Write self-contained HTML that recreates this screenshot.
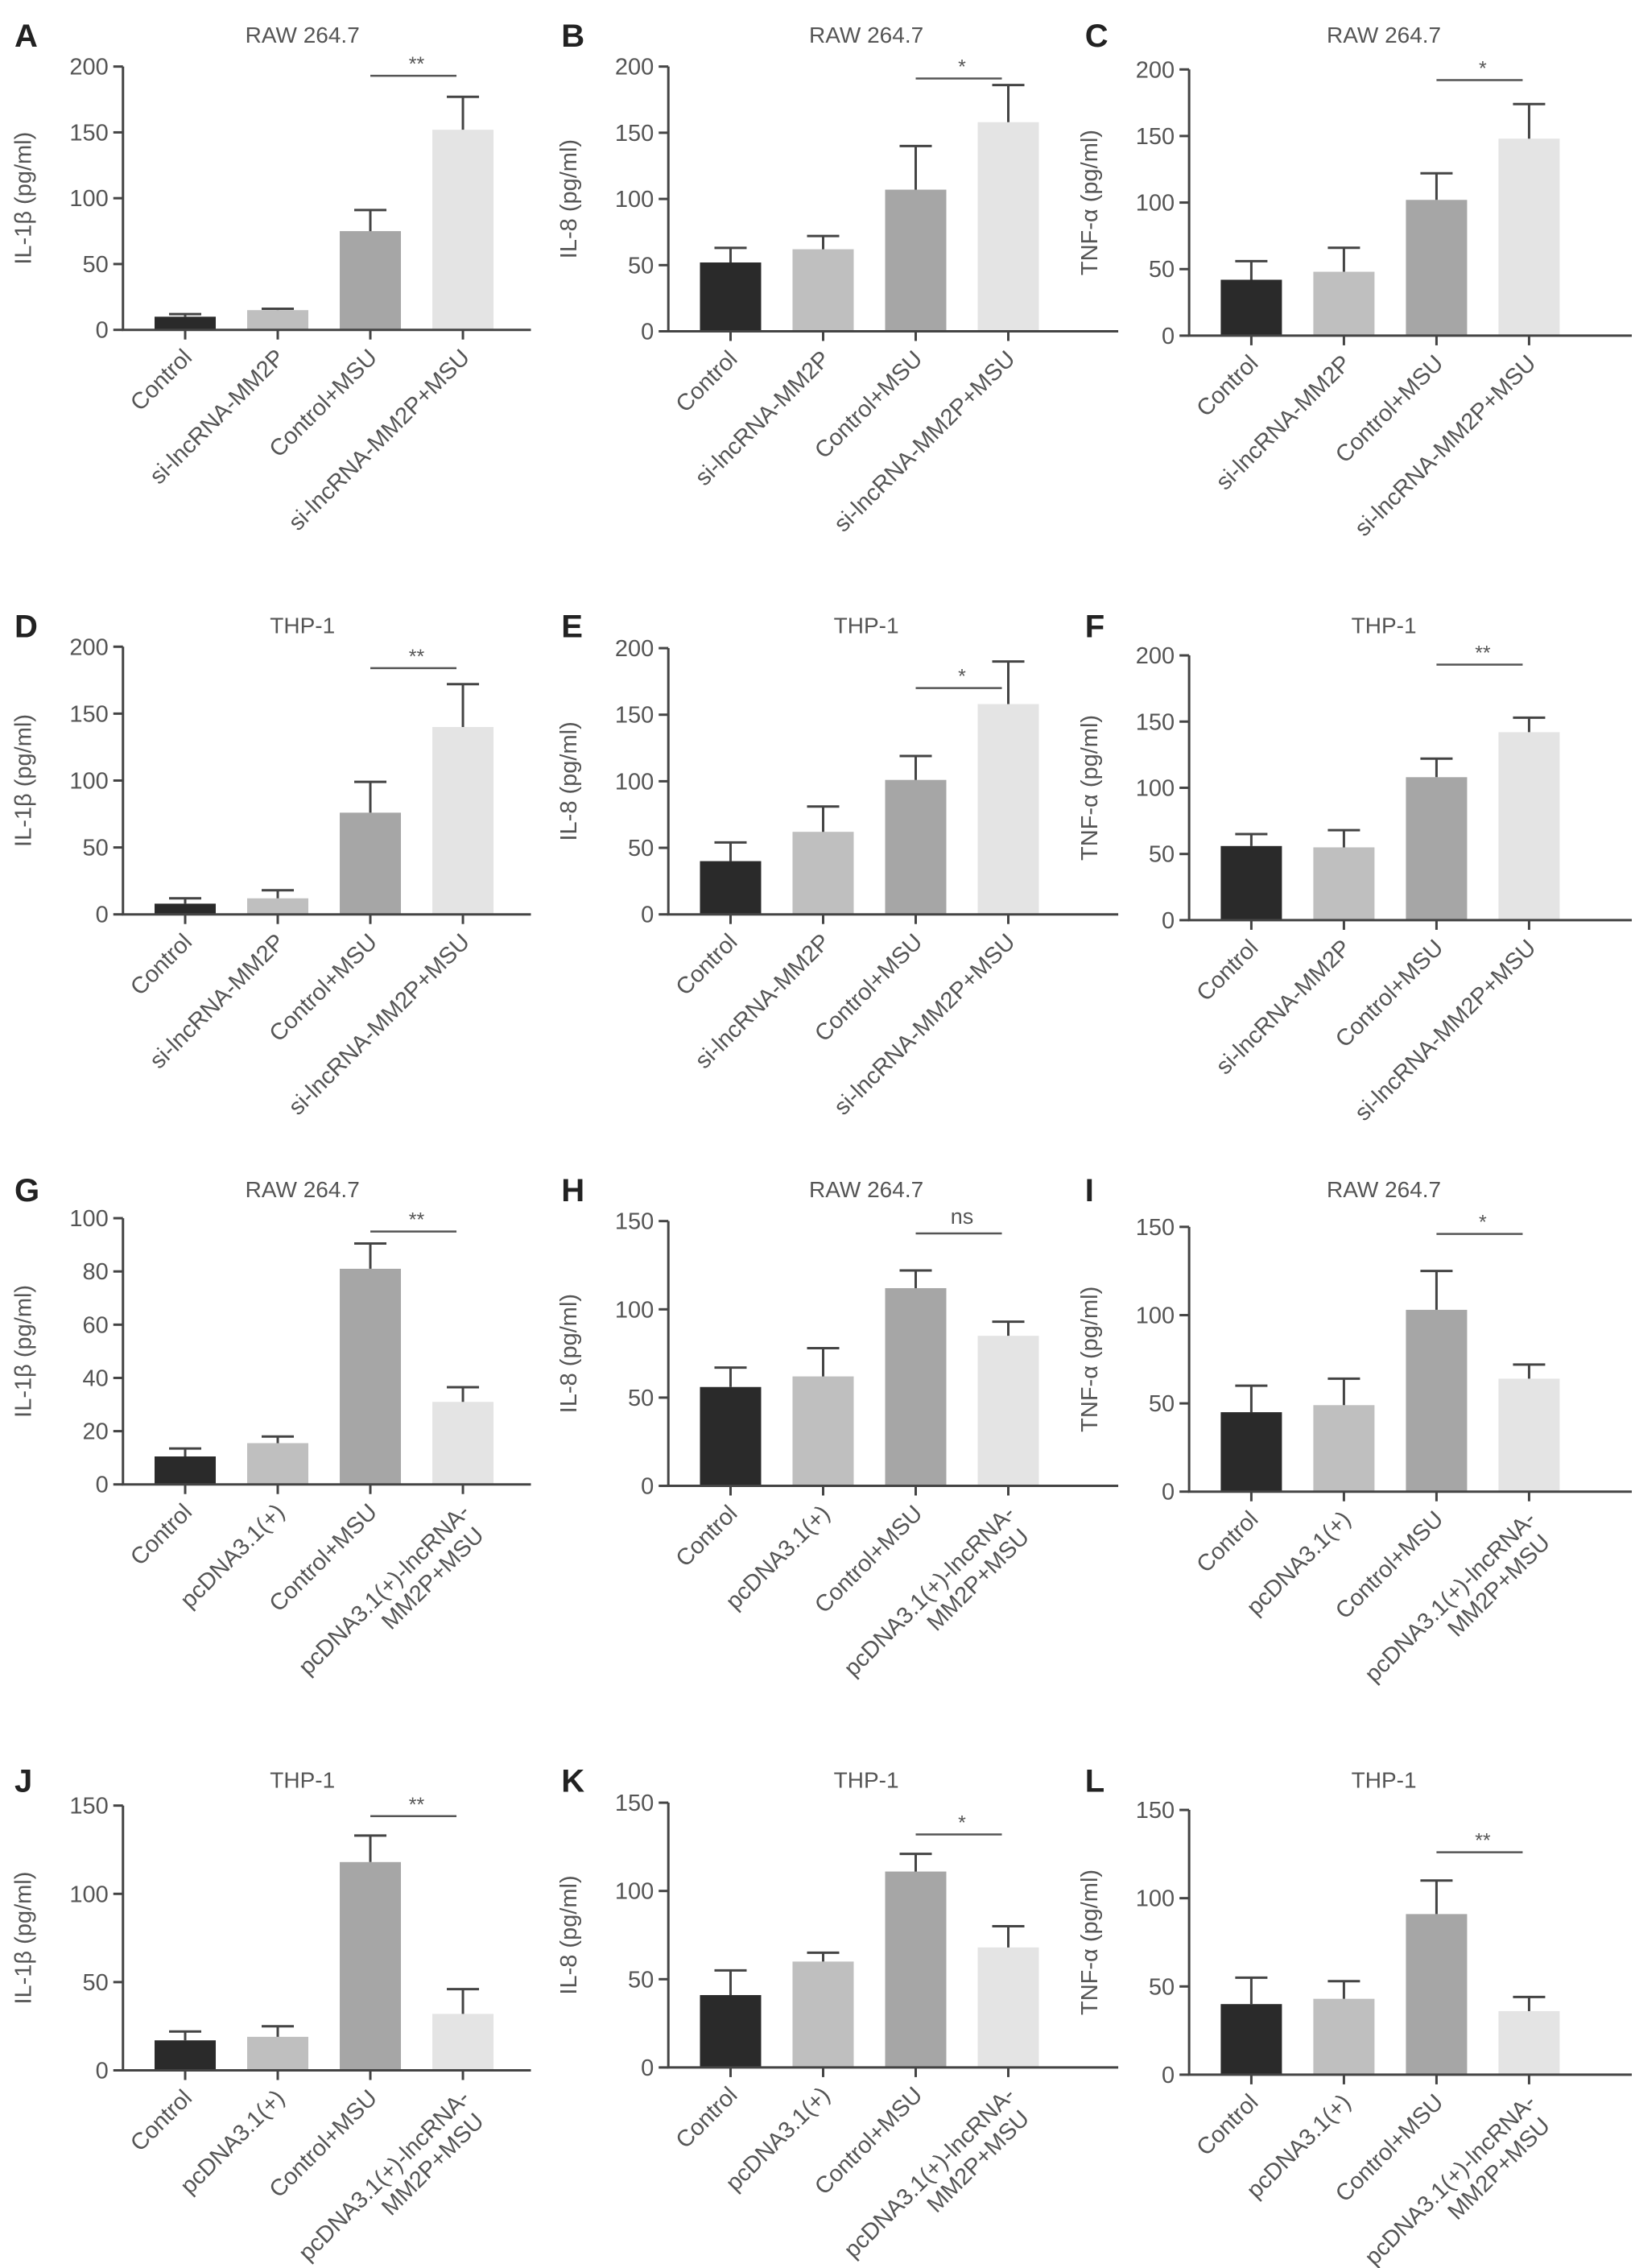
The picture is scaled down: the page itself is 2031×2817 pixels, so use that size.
<!DOCTYPE html>
<html><head><meta charset="utf-8">
<style>
html,body{margin:0;padding:0;background:#fff;}
svg{display:block;font-family:"Liberation Sans",Arial,sans-serif;}
</style></head>
<body>
<svg id="fig" width="2031" height="2817" viewBox="0 0 2031 2817" xmlns="http://www.w3.org/2000/svg"></svg>
<script>
const S = 1.797;
const categoriesSi = ["Control","si-lncRNA-MM2P","Control+MSU","si-lncRNA-MM2P+MSU"];
const categoriesPc = ["Control","pcDNA3.1(+)","Control+MSU","pcDNA3.1(+)-lncRNA-|MM2P+MSU"];
const panelLetters = ["A","B","C","D","E","F","G","H","I","J","K","L"];
const panelTitles = ["RAW 264.7","RAW 264.7","RAW 264.7","THP-1","THP-1","THP-1","RAW 264.7","RAW 264.7","RAW 264.7","THP-1","THP-1","THP-1"];
const yTitles = ["IL-1β (pg/ml)","IL-8 (pg/ml)","TNF-α (pg/ml)","IL-1β (pg/ml)","IL-8 (pg/ml)","TNF-α (pg/ml)","IL-1β (pg/ml)","IL-8 (pg/ml)","TNF-α (pg/ml)","IL-1β (pg/ml)","IL-8 (pg/ml)","TNF-α (pg/ml)"];
const yMax = [200,200,200,200,200,200,100,150,150,150,150,150];
const yStep = [50,50,50,50,50,50,20,50,50,50,50,50];
const meansA = [10,15,75,152], errA = [2,1,16,25];
const meansB = [52,62,107,158], errB = [11,10,33,28];
const meansC = [42,48,102,148], errC = [14,18,20,26];
const meansD = [8,12,76,140], errD = [4,6,23,32];
const meansE = [40,62,101,158], errE = [14,19,18,32];
const meansF = [56,55,108,142], errF = [9,13,14,11];
const meansG = [10.5,15.5,81,31], errG = [3,2.5,9.5,5.5];
const meansH = [56,62,112,85], errH = [11,16,10,8];
const meansI = [45,49,103,64], errI = [15,15,22,8];
const meansJ = [17,19,118,32], errJ = [5,6,15,14];
const meansK = [41,60,111,68], errK = [14,5,10,12];
const meansL = [40,43,91,36], errL = [15,10,19,8];
const sigLabels = ["**","*","*","**","*","**","**","ns","*","**","*","**"];
const sigValues = [193,191,192,184,170,193,95,143,146,144,132,126];
const means = [meansA,meansB,meansC,meansD,meansE,meansF,meansG,meansH,meansI,meansJ,meansK,meansL];
const errs = [errA,errB,errC,errD,errE,errF,errG,errH,errI,errJ,errK,errL];

const colAxisX = [85,462,822];
const colEndX = [367,773,1128];
const rowTop = [[46,46,48],[447,448,453],[842,844,848],[1248,1246,1251]];
const rowZero = [[228,229,232],[632,632,636],[1026,1027,1031],[1431,1429,1434]];
const titleY = [24,432,822,1230];
const barColors = ["#2a2a2a","#bfbfbf","#a6a6a6","#e4e4e4"];
const NS="http://www.w3.org/2000/svg";
const svg=document.getElementById('fig');
function mk(tag,attrs,parent){const e=document.createElementNS(NS,tag);for(const k in attrs)e.setAttribute(k,attrs[k]);(parent||svg).appendChild(e);return e;}

for(let p=0;p<12;p++){
  const r=Math.floor(p/3), c=p%3;
  const g=mk('g',{});
  
  
  const ax=colAxisX[c]*S, xe=colEndX[c]*S, y0=rowZero[r][c]*S, yt=rowTop[r][c]*S;
  const yScale=v=>y0-(v/yMax[p])*(y0-yt);
  const barX=i=>ax+(43+64*i)*S;
  const L=mk('text',{x:(c===0?10:(c===1?388:750))*S,y:titleY[r]*S+15,'font-size':40,'font-weight':'bold',fill:'#222'},g);
  L.textContent=panelLetters[p];
  
  
  const T=mk('text',{x:ax+(xe-ax)*0.44,y:titleY[r]*S+10,'font-size':28,fill:'#555','text-anchor':'middle'},g);
  T.textContent=panelTitles[p];
  
  
  const yl=mk('text',{x:0,y:0,'font-size':29,fill:'#555','text-anchor':'middle',transform:`translate(${ax-114},${(y0+yt)/2}) rotate(-90)`},g);
  yl.textContent=yTitles[p];
  
  
  for(let i=0;i<4;i++){
    const v=means[p][i], e=errs[p][i], cx=barX(i);
    const b=mk('rect',{x:cx-38,y:yScale(v),width:76,height:y0-yScale(v),fill:barColors[i]},g);
    
    
    const eb=mk('path',{d:`M${cx},${yScale(v)} V${yScale(v+e)} M${cx-20},${yScale(v+e)} H${cx+20}`,stroke:'#444','stroke-width':3,fill:'none'},g);
    
    
    mk('line',{x1:cx,y1:y0,x2:cx,y2:y0+12,stroke:'#444','stroke-width':3},g);
    const labs=(r<2?categoriesSi:categoriesPc)[i].split('|');
    const tx=mk('text',{x:0,y:0,'font-size':29,fill:'#555','text-anchor':'end',transform:`translate(${cx+10},${y0+36}) rotate(-45)`},g);
    
    
    labs.forEach((s,k)=>{const ts=mk('tspan',{x:k?-8:0,dy:k?33:0},tx);ts.textContent=s;});
  }
  const axl=mk('path',{d:`M${ax},${yt} V${y0} H${xe}`,stroke:'#444','stroke-width':3,fill:'none'},g);
  
  
  for(let v=0;v<=yMax[p];v+=yStep[p]){
    const y=yScale(v);
    mk('line',{x1:ax-12,y1:y,x2:ax,y2:y,stroke:'#444','stroke-width':3},g);
    const t=mk('text',{x:ax-18,y:y+10,'font-size':29,fill:'#555','text-anchor':'end'},g);
    t.textContent=v;
    
    
  }
  const sy=yScale(sigValues[p]);
  const sl=mk('line',{x1:barX(2),y1:sy,x2:barX(3)-8,y2:sy,stroke:'#555','stroke-width':2.5},g);
  
  
  const st=mk('text',{x:(barX(2)+barX(3))/2,y:sy-(sigLabels[p]==='ns'?12:6),'font-size':sigLabels[p]==='ns'?27:25,fill:'#555','text-anchor':'middle'},g);
  st.textContent=sigLabels[p];
  
  
}
</script>
</body></html>
